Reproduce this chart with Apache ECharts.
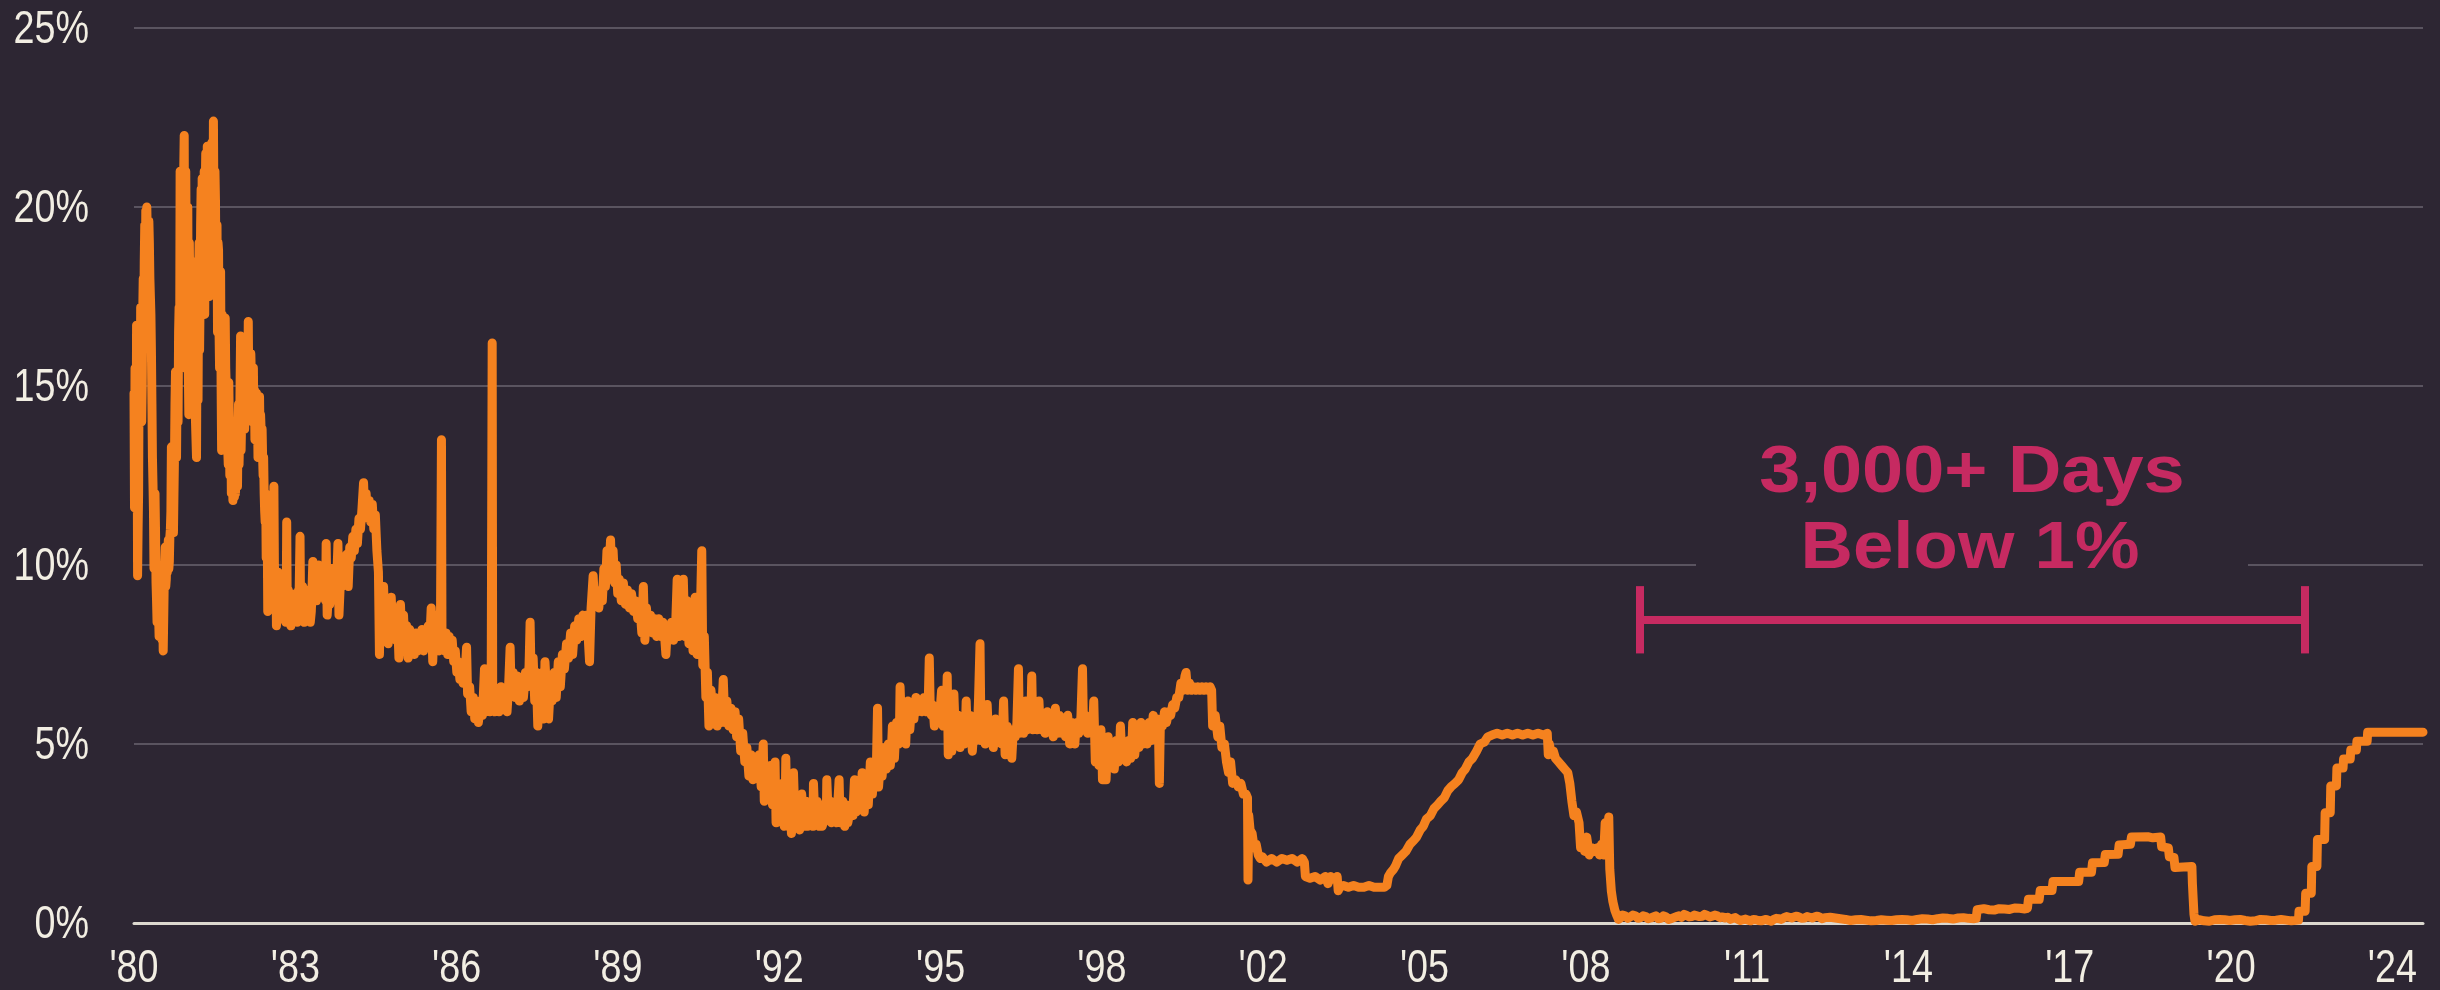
<!DOCTYPE html>
<html>
<head>
<meta charset="utf-8">
<script src="https://cdn.jsdelivr.net/npm/echarts@6/dist/echarts.min.js"></script>
<style>
  html, body { margin: 0; padding: 0; background: #2D2633; }
  #chart { width: 2440px; height: 990px; }
</style>
</head>
<body>
<div id="chart"></div>
<script>
// effective fed funds rate, [decimal year, percent]
var rates1980s = [
  [1980.00, 14.8], [1980.01, 11.6], [1980.03, 13.5], [1980.05, 16.7], [1980.07, 9.7], [1980.09, 12.0],
  [1980.11, 16.6], [1980.13, 17.2], [1980.15, 14.0], [1980.17, 17.0], [1980.20, 18.5], [1980.23, 19.9],
  [1980.25, 20.0], [1980.27, 18.2], [1980.29, 19.6], [1980.31, 18.0], [1980.33, 17.0], [1980.35, 14.5],
  [1980.37, 12.3], [1980.39, 9.9], [1980.41, 12.0], [1980.43, 9.5], [1980.45, 8.4], [1980.47, 10.0],
  [1980.49, 8.0], [1980.51, 9.8], [1980.54, 8.3], [1980.57, 7.6], [1980.59, 9.5], [1980.61, 10.5],
  [1980.63, 9.6], [1980.66, 10.4], [1980.69, 10.1], [1980.71, 11.0], [1980.73, 13.3], [1980.75, 12.0],
  [1980.77, 10.9], [1980.79, 13.0], [1980.81, 15.4], [1980.83, 13.0], [1980.85, 14.5], [1980.88, 17.2],
  [1980.90, 21.0], [1980.92, 18.0], [1980.95, 20.5], [1980.98, 22.0], [1981.00, 19.5], [1981.03, 16.0],
  [1981.05, 20.0], [1981.07, 14.2], [1981.09, 17.5], [1981.11, 15.0], [1981.13, 16.5], [1981.16, 14.3],
  [1981.19, 15.2], [1981.22, 13.0], [1981.24, 15.5], [1981.26, 17.8], [1981.28, 16.0], [1981.30, 19.5],
  [1981.33, 20.8], [1981.36, 18.0], [1981.39, 20.5], [1981.41, 19.0], [1981.43, 21.7], [1981.45, 18.5],
  [1981.48, 20.5], [1981.50, 18.8], [1981.53, 21.0], [1981.55, 22.4], [1981.57, 18.8], [1981.59, 20.2],
  [1981.61, 17.6], [1981.64, 19.0], [1981.66, 16.5], [1981.69, 18.2], [1981.71, 13.2], [1981.73, 16.0],
  [1981.75, 14.4], [1981.78, 16.9], [1981.80, 15.0], [1981.83, 13.2], [1981.85, 15.1], [1981.88, 13.2],
  [1981.91, 12.5], [1981.93, 11.8], [1981.95, 13.0], [1981.98, 12.0], [1982.00, 13.4], [1982.02, 12.2],
  [1982.04, 14.5], [1982.06, 13.5], [1982.08, 16.4], [1982.10, 14.0], [1982.13, 16.3], [1982.15, 14.5],
  [1982.18, 15.8], [1982.21, 14.2], [1982.23, 16.8], [1982.25, 14.6], [1982.28, 15.9], [1982.31, 14.0],
  [1982.33, 15.5], [1982.36, 13.5], [1982.39, 14.8], [1982.42, 13.0], [1982.45, 14.7], [1982.48, 13.8],
  [1982.51, 13.0], [1982.54, 12.0], [1982.56, 11.2], [1982.59, 10.6], [1982.61, 8.7], [1982.64, 10.0],
  [1982.67, 9.2], [1982.70, 10.0], [1982.73, 12.2], [1982.75, 9.5], [1982.78, 8.3], [1982.81, 9.8],
  [1982.84, 8.5], [1982.87, 9.5], [1982.90, 8.8], [1982.93, 9.4], [1982.96, 8.4], [1982.98, 11.2],
  [1983.00, 8.6], [1983.03, 9.2], [1983.06, 8.3], [1983.09, 9.0], [1983.12, 8.5], [1983.15, 9.2],
  [1983.18, 8.4], [1983.21, 9.3], [1983.24, 10.8], [1983.26, 8.6], [1983.29, 9.4], [1983.32, 8.4],
  [1983.35, 9.0], [1983.38, 8.6], [1983.41, 9.3], [1983.44, 8.4], [1983.47, 9.1], [1983.49, 10.1],
  [1983.51, 9.2], [1983.54, 9.7], [1983.57, 9.3], [1983.60, 10.0], [1983.63, 9.4], [1983.66, 9.8],
  [1983.69, 9.3], [1983.72, 9.6], [1983.75, 10.6], [1983.77, 8.6], [1983.80, 9.5], [1983.83, 9.1],
  [1983.86, 9.9], [1983.89, 9.2], [1983.92, 9.7], [1983.95, 9.3], [1983.98, 10.6], [1984.00, 8.6],
  [1984.03, 9.6], [1984.06, 9.4], [1984.09, 10.0], [1984.12, 9.6], [1984.15, 10.3], [1984.18, 9.4],
  [1984.21, 10.5], [1984.24, 10.2], [1984.27, 10.8], [1984.30, 10.4], [1984.33, 11.0], [1984.36, 10.6],
  [1984.39, 11.3], [1984.42, 11.0], [1984.45, 11.6], [1984.48, 12.3], [1984.50, 11.5], [1984.53, 12.0],
  [1984.56, 11.3], [1984.59, 11.8], [1984.62, 11.2], [1984.65, 11.7], [1984.68, 11.0], [1984.71, 11.4],
  [1984.74, 10.4], [1984.77, 9.8], [1984.79, 7.5], [1984.81, 9.0], [1984.84, 8.2], [1984.87, 9.4],
  [1984.90, 8.2], [1984.93, 9.0], [1984.96, 7.8], [1984.99, 8.5], [1985.02, 9.1], [1985.05, 8.0],
  [1985.08, 8.8], [1985.11, 7.9], [1985.14, 8.7], [1985.17, 7.4], [1985.20, 8.9], [1985.23, 7.8],
  [1985.26, 8.6], [1985.29, 7.6], [1985.32, 8.3], [1985.35, 7.4], [1985.38, 8.2], [1985.41, 7.6],
  [1985.44, 8.0], [1985.47, 7.5], [1985.50, 8.1], [1985.53, 7.6], [1985.56, 8.0], [1985.59, 7.7],
  [1985.62, 8.2], [1985.65, 7.6], [1985.68, 8.1], [1985.71, 7.7], [1985.74, 8.3], [1985.77, 7.8],
  [1985.80, 8.8], [1985.83, 7.3], [1985.86, 8.6], [1985.89, 7.8], [1985.92, 8.4], [1985.95, 7.6],
  [1985.98, 8.2], [1986.00, 13.5], [1986.01, 8.2]
];

// extra daily swings that fill out the early band
var rates1980sDaily = [
  [1980.02, 15.5], [1980.04, 12.5], [1980.06, 14.5], [1980.08, 11.0], [1980.10, 15.5], [1980.12, 14.0],
  [1980.14, 16.3], [1980.16, 15.0], [1980.18, 18.0], [1980.19, 16.5], [1980.21, 19.5], [1980.22, 17.5],
  [1980.24, 18.5], [1980.26, 19.2], [1980.28, 17.5], [1980.30, 19.0], [1980.32, 17.5], [1980.34, 16.0],
  [1980.36, 13.0], [1980.38, 11.5], [1980.40, 10.5], [1980.42, 11.0], [1980.44, 9.0], [1980.46, 9.3],
  [1980.48, 8.6], [1980.50, 9.0], [1980.52, 8.2], [1980.53, 9.5], [1980.55, 7.9], [1980.56, 9.0],
  [1980.58, 8.5], [1980.60, 10.0], [1980.62, 9.4], [1980.64, 10.2], [1980.65, 9.8], [1980.67, 10.7],
  [1980.68, 9.9], [1980.70, 10.8], [1980.72, 11.5], [1980.74, 12.5], [1980.76, 11.5], [1980.78, 12.0],
  [1980.80, 14.5], [1980.82, 13.8], [1980.84, 15.0], [1980.86, 14.0], [1980.87, 16.5], [1980.89, 15.5],
  [1980.91, 19.5], [1980.93, 15.5], [1980.94, 17.0], [1980.96, 19.0], [1980.97, 21.0], [1980.99, 16.5],
  [1981.01, 21.0], [1981.04, 18.0], [1981.06, 15.5], [1981.08, 19.0], [1981.10, 16.0], [1981.12, 18.5],
  [1981.14, 14.8], [1981.17, 17.0], [1981.20, 14.0], [1981.23, 16.5], [1981.25, 14.6], [1981.27, 19.0],
  [1981.29, 17.5], [1981.31, 20.5], [1981.32, 17.5], [1981.34, 19.0], [1981.37, 21.0], [1981.38, 17.0],
  [1981.40, 21.5], [1981.42, 18.0], [1981.44, 20.0], [1981.46, 21.0], [1981.47, 17.5], [1981.49, 21.5],
  [1981.51, 19.5], [1981.52, 21.8], [1981.54, 19.0], [1981.56, 20.0], [1981.58, 21.0], [1981.60, 18.0],
  [1981.62, 19.5], [1981.63, 16.5], [1981.65, 18.8], [1981.67, 15.5], [1981.68, 17.5], [1981.70, 15.0],
  [1981.72, 17.0], [1981.74, 13.5], [1981.76, 15.8], [1981.77, 13.8], [1981.79, 15.5], [1981.81, 14.0],
  [1981.82, 15.0], [1981.84, 12.8], [1981.86, 14.0], [1981.87, 12.5], [1981.89, 13.8], [1981.90, 12.0],
  [1981.92, 13.2], [1981.94, 12.4], [1981.96, 11.9], [1981.97, 13.4], [1982.01, 12.6], [1982.03, 13.8],
  [1982.05, 12.8], [1982.07, 15.0], [1982.09, 13.2], [1982.11, 15.5], [1982.12, 13.8], [1982.14, 15.2],
  [1982.16, 13.8], [1982.17, 15.0], [1982.19, 14.0], [1982.20, 15.5], [1982.22, 14.4], [1982.24, 15.0],
  [1982.26, 15.4], [1982.27, 14.2], [1982.29, 15.3], [1982.30, 14.3], [1982.32, 15.0], [1982.34, 14.0],
  [1982.35, 14.9], [1982.37, 14.0], [1982.38, 14.5], [1982.40, 13.6], [1982.41, 14.3], [1982.43, 13.5],
  [1982.44, 14.2], [1982.46, 13.5], [1982.47, 14.2], [1982.49, 13.0], [1982.50, 13.8], [1982.52, 12.5],
  [1982.53, 13.0], [1982.55, 11.5], [1982.57, 12.0], [1982.58, 10.2], [1982.60, 11.0], [1982.62, 9.4],
  [1982.63, 10.3], [1982.65, 9.0], [1982.66, 10.2], [1982.68, 9.5], [1982.69, 9.0], [1982.71, 10.3],
  [1982.72, 9.2], [1982.74, 10.0], [1982.76, 9.0], [1982.77, 9.6], [1982.79, 8.6], [1982.80, 9.5],
  [1982.82, 8.8], [1982.83, 9.6], [1982.85, 8.7], [1982.86, 9.3], [1982.88, 8.6], [1982.89, 9.2],
  [1982.91, 8.5], [1982.92, 9.0], [1982.94, 8.6], [1982.95, 9.2], [1982.97, 8.7], [1982.99, 9.0],
  [1983.01, 9.3], [1983.04, 8.9], [1983.07, 8.9], [1983.10, 8.8], [1983.13, 9.0], [1983.16, 8.8],
  [1983.19, 8.9], [1983.22, 9.0], [1983.25, 9.0], [1983.28, 8.6], [1983.31, 8.5], [1983.34, 8.6],
  [1983.37, 8.7], [1983.40, 8.6], [1983.43, 8.8], [1983.46, 8.7], [1983.50, 9.0], [1983.53, 9.1],
  [1983.56, 9.0], [1983.59, 9.2], [1983.62, 9.1], [1983.65, 9.2], [1983.68, 9.1], [1983.71, 9.2],
  [1983.74, 9.0], [1983.79, 9.1], [1983.82, 8.9], [1983.85, 9.2], [1983.88, 9.3], [1983.91, 9.1],
  [1983.94, 9.2], [1983.97, 9.3]
];

var rates1986to1992 = [
  [1986.03, 8.2], [1986.06, 7.6], [1986.09, 8.1], [1986.12, 7.5], [1986.15, 8.0], [1986.18, 7.6],
  [1986.21, 7.9], [1986.24, 7.3], [1986.27, 7.6], [1986.30, 7.0], [1986.33, 7.3], [1986.36, 6.8],
  [1986.39, 7.1], [1986.42, 6.7], [1986.46, 6.9], [1986.49, 7.7], [1986.51, 6.4], [1986.55, 6.6],
  [1986.58, 5.9], [1986.62, 6.3], [1986.65, 5.7], [1986.69, 6.2], [1986.72, 5.6], [1986.76, 6.1],
  [1986.80, 5.8], [1986.84, 7.1], [1986.87, 5.9], [1986.90, 6.5], [1986.94, 5.9], [1986.97, 6.4],
  [1986.99, 16.2], [1987.00, 6.3], [1987.04, 5.9], [1987.08, 6.5], [1987.12, 5.9], [1987.16, 6.6],
  [1987.20, 6.0], [1987.24, 6.4], [1987.28, 5.9], [1987.31, 6.6], [1987.34, 7.7], [1987.36, 6.4],
  [1987.40, 7.0], [1987.44, 6.3], [1987.48, 6.9], [1987.52, 6.2], [1987.56, 6.8], [1987.60, 6.3],
  [1987.64, 7.0], [1987.68, 6.6], [1987.71, 7.2], [1987.73, 8.4], [1987.75, 6.8], [1987.79, 7.4],
  [1987.82, 6.2], [1987.85, 7.0], [1987.88, 5.5], [1987.91, 6.8], [1987.94, 6.0], [1987.97, 7.0],
  [1988.00, 5.7], [1988.02, 7.3], [1988.05, 6.5], [1988.09, 5.7], [1988.12, 6.5], [1988.16, 6.2],
  [1988.20, 7.0], [1988.24, 6.3], [1988.28, 7.3], [1988.32, 6.6], [1988.36, 7.5], [1988.40, 7.1],
  [1988.44, 7.8], [1988.48, 7.4], [1988.52, 8.1], [1988.56, 7.5], [1988.60, 8.3], [1988.64, 7.9],
  [1988.68, 8.5], [1988.72, 8.0], [1988.76, 8.6], [1988.80, 8.2], [1988.84, 8.6], [1988.89, 7.3],
  [1988.92, 8.8], [1988.96, 9.7], [1988.99, 8.9], [1989.03, 9.2], [1989.07, 8.8], [1989.11, 9.3],
  [1989.14, 9.0], [1989.17, 9.9], [1989.20, 9.4], [1989.23, 10.4], [1989.26, 9.6], [1989.30, 10.7],
  [1989.32, 9.8], [1989.35, 10.4], [1989.38, 9.5], [1989.41, 10.0], [1989.44, 9.2], [1989.47, 9.6],
  [1989.51, 9.0], [1989.55, 9.5], [1989.59, 8.9], [1989.63, 9.3], [1989.67, 8.8], [1989.71, 9.2],
  [1989.75, 8.7], [1989.79, 9.0], [1989.83, 8.5], [1989.87, 8.9], [1989.91, 8.1], [1989.94, 9.4],
  [1989.97, 7.9], [1990.00, 8.8], [1990.04, 8.2], [1990.08, 8.6], [1990.12, 8.1], [1990.16, 8.5],
  [1990.20, 8.0], [1990.24, 8.5], [1990.28, 8.0], [1990.32, 8.4], [1990.36, 7.9], [1990.38, 7.5],
  [1990.41, 8.3], [1990.45, 7.9], [1990.49, 8.4], [1990.53, 7.9], [1990.57, 8.3], [1990.60, 9.6],
  [1990.63, 8.0], [1990.66, 9.5], [1990.69, 8.1], [1990.72, 9.6], [1990.75, 8.0], [1990.79, 9.0],
  [1990.83, 7.8], [1990.87, 8.6], [1990.91, 7.6], [1990.95, 9.1], [1990.99, 7.5], [1991.05, 8.5],
  [1991.08, 10.4], [1991.10, 7.2], [1991.13, 8.0], [1991.16, 6.3], [1991.19, 7.0], [1991.22, 5.5],
  [1991.26, 6.5], [1991.30, 5.8], [1991.34, 6.3], [1991.38, 5.5], [1991.42, 6.1], [1991.46, 5.6],
  [1991.50, 6.8], [1991.53, 5.6], [1991.57, 6.2], [1991.61, 5.5], [1991.65, 6.0], [1991.69, 5.4],
  [1991.73, 5.9], [1991.76, 5.2], [1991.80, 5.7], [1991.84, 4.8], [1991.88, 5.3], [1991.92, 4.5],
  [1991.96, 4.9], [1992.00, 4.1], [1992.04, 4.7], [1992.08, 4.0], [1992.12, 4.5], [1992.16, 4.1],
  [1992.20, 4.7], [1992.24, 3.8], [1992.28, 5.0]
];

var rates1992to2001 = [
  [1992.30, 3.4], [1992.34, 4.3], [1992.38, 3.5], [1992.42, 4.4], [1992.46, 3.3], [1992.51, 4.5],
  [1992.53, 2.8], [1992.57, 3.6], [1992.61, 3.0], [1992.65, 3.9], [1992.69, 2.7], [1992.72, 4.6],
  [1992.75, 2.9], [1992.79, 3.7], [1992.83, 2.5], [1992.87, 4.2], [1992.91, 2.8], [1992.95, 3.5],
  [1992.99, 2.6], [1993.03, 3.6], [1993.07, 2.8], [1993.11, 3.4], [1993.15, 2.7], [1993.19, 3.3],
  [1993.23, 2.9], [1993.26, 3.9], [1993.29, 2.8], [1993.33, 3.4], [1993.37, 2.7], [1993.41, 3.3],
  [1993.45, 2.8], [1993.49, 3.2], [1993.52, 4.0], [1993.55, 2.9], [1993.59, 3.4], [1993.63, 2.9],
  [1993.67, 3.3], [1993.71, 2.8], [1993.76, 4.0], [1993.79, 2.9], [1993.83, 3.4], [1993.87, 2.7],
  [1993.91, 3.3], [1993.95, 2.8], [1993.99, 3.3], [1994.03, 3.0], [1994.06, 4.0], [1994.09, 3.1],
  [1994.13, 3.9], [1994.17, 3.2], [1994.21, 4.2], [1994.25, 3.1], [1994.29, 4.1], [1994.33, 3.3],
  [1994.37, 4.5], [1994.41, 3.6], [1994.45, 4.4], [1994.48, 3.8], [1994.51, 6.0], [1994.53, 3.8],
  [1994.56, 4.6], [1994.60, 4.1], [1994.64, 4.9], [1994.68, 4.3], [1994.72, 5.0], [1994.76, 4.4],
  [1994.80, 5.5], [1994.84, 4.6], [1994.88, 5.6], [1994.92, 5.0], [1994.95, 6.6], [1994.98, 5.2],
  [1995.02, 6.0], [1995.06, 5.0], [1995.10, 6.2], [1995.14, 5.4], [1995.18, 6.1], [1995.22, 5.7],
  [1995.26, 6.3], [1995.30, 5.9], [1995.34, 6.2], [1995.38, 5.9], [1995.42, 6.3], [1995.46, 5.9],
  [1995.50, 6.2], [1995.52, 7.4], [1995.54, 5.9], [1995.58, 6.1], [1995.62, 5.5], [1995.66, 6.0],
  [1995.70, 5.6], [1995.74, 6.1], [1995.76, 6.5], [1995.79, 5.5], [1995.83, 6.1], [1995.87, 6.9],
  [1995.89, 4.7], [1995.92, 5.9], [1995.96, 4.8], [1996.00, 6.4], [1996.04, 5.0], [1996.08, 5.8],
  [1996.12, 4.9], [1996.16, 5.6], [1996.20, 5.0], [1996.24, 6.2], [1996.28, 5.2], [1996.32, 5.8],
  [1996.36, 4.8], [1996.40, 5.6], [1996.44, 5.1], [1996.48, 6.2], [1996.51, 7.8], [1996.53, 5.1],
  [1996.57, 5.6], [1996.61, 5.0], [1996.65, 6.1], [1996.69, 5.1], [1996.73, 5.5], [1996.77, 4.9],
  [1996.81, 5.7], [1996.85, 5.2], [1996.89, 5.5], [1996.93, 5.0], [1996.97, 6.2], [1997.00, 4.7],
  [1997.04, 5.5], [1997.08, 5.1], [1997.13, 4.6], [1997.16, 5.4], [1997.20, 5.2], [1997.23, 5.6],
  [1997.26, 7.1], [1997.28, 5.3], [1997.32, 5.8], [1997.36, 5.3], [1997.40, 6.2], [1997.44, 5.4],
  [1997.48, 5.8], [1997.52, 6.9], [1997.54, 5.4], [1997.58, 5.9], [1997.62, 5.4], [1997.66, 6.2],
  [1997.70, 5.4], [1997.74, 5.8], [1997.78, 5.3], [1997.82, 5.9], [1997.86, 5.4], [1997.90, 5.7],
  [1997.94, 5.2], [1997.98, 6.0], [1998.02, 5.3], [1998.06, 5.8], [1998.10, 5.3], [1998.14, 5.7],
  [1998.18, 5.2], [1998.22, 5.8], [1998.26, 5.0], [1998.30, 5.6], [1998.34, 5.3], [1998.36, 5.0],
  [1998.40, 5.6], [1998.44, 5.3], [1998.48, 5.8], [1998.51, 7.1], [1998.53, 5.4], [1998.57, 5.8],
  [1998.61, 5.3], [1998.65, 5.7], [1998.69, 5.3], [1998.73, 6.2], [1998.76, 4.5], [1998.79, 5.3],
  [1998.83, 4.4], [1998.87, 5.4], [1998.90, 4.0], [1998.93, 4.9], [1998.97, 4.0], [1999.01, 5.2],
  [1999.05, 4.6], [1999.09, 5.0], [1999.13, 4.3], [1999.17, 5.1], [1999.21, 4.5], [1999.25, 5.5],
  [1999.29, 4.6], [1999.33, 5.0], [1999.37, 4.5], [1999.41, 5.1], [1999.45, 4.6], [1999.49, 5.6],
  [1999.53, 4.7], [1999.57, 5.3], [1999.61, 4.9], [1999.65, 5.6], [1999.69, 5.0], [1999.73, 5.5],
  [1999.77, 5.0], [1999.81, 5.6], [1999.85, 5.1], [1999.89, 5.8], [1999.93, 5.2], [1999.97, 5.7],
  [2000.01, 3.9], [2000.03, 5.6], [2000.07, 5.5], [2000.11, 5.9], [2000.15, 5.6], [2000.19, 5.9],
  [2000.23, 5.8], [2000.27, 6.1], [2000.31, 6.0], [2000.35, 6.3], [2000.39, 6.3], [2000.43, 6.7],
  [2000.47, 6.5], [2000.51, 6.9], [2000.53, 7.0], [2000.56, 6.5], [2000.60, 6.7], [2000.64, 6.5],
  [2000.68, 6.6], [2000.72, 6.5], [2000.76, 6.6], [2000.80, 6.5], [2000.84, 6.6], [2000.88, 6.5],
  [2000.92, 6.6], [2000.96, 6.5], [2001.00, 6.6]
];

// extra daily swings for the 1992-2000 band
var rates1990sDaily = [
  [1992.55, 3.9], [1992.59, 2.9], [1992.63, 3.4], [1992.67, 2.9], [1992.71, 3.5], [1992.74, 3.2],
  [1992.77, 2.7], [1992.81, 3.3], [1992.85, 2.9], [1992.89, 3.3], [1992.93, 2.7], [1992.97, 3.2],
  [1993.01, 2.8], [1993.05, 3.2], [1993.09, 2.7], [1993.13, 3.1], [1993.17, 2.8], [1993.21, 3.2],
  [1993.25, 2.7], [1993.31, 3.1], [1993.35, 2.9], [1993.39, 3.2], [1993.43, 2.7], [1993.47, 3.1],
  [1993.51, 2.9], [1993.57, 3.2], [1993.61, 2.8], [1993.65, 3.1], [1993.69, 2.9], [1993.73, 3.2],
  [1993.78, 2.8], [1993.81, 3.2], [1993.85, 2.9], [1993.89, 3.1], [1993.93, 2.8], [1993.97, 3.1],
  [1994.01, 3.2], [1994.04, 3.4], [1994.08, 3.5], [1994.11, 3.3], [1994.15, 3.5], [1994.19, 3.6],
  [1994.23, 3.5], [1994.27, 3.7], [1994.31, 3.6], [1994.35, 3.9], [1994.39, 4.0], [1994.43, 4.1],
  [1994.47, 4.2], [1994.55, 4.2], [1994.58, 4.4], [1994.62, 4.5], [1994.66, 4.6], [1994.70, 4.6],
  [1994.74, 4.7], [1994.78, 4.8], [1994.82, 5.1], [1994.86, 5.2], [1994.90, 5.4], [1994.94, 5.6],
  [1994.97, 5.8], [1995.00, 5.5], [1995.04, 5.7], [1995.08, 5.8], [1995.12, 5.9], [1995.16, 5.8],
  [1995.20, 6.0], [1995.24, 6.1], [1995.28, 6.0], [1995.32, 6.1], [1995.36, 6.0], [1995.40, 6.1],
  [1995.44, 6.0], [1995.48, 6.1], [1995.56, 5.8], [1995.60, 5.9], [1995.64, 5.7], [1995.68, 5.8],
  [1995.72, 5.7], [1995.78, 5.8], [1995.81, 5.6], [1995.85, 5.7], [1995.91, 5.5], [1995.94, 5.4],
  [1995.98, 5.5], [1996.02, 5.6], [1996.06, 5.3], [1996.10, 5.4], [1996.14, 5.2], [1996.18, 5.3],
  [1996.22, 5.2], [1996.26, 5.4], [1996.30, 5.2], [1996.34, 5.4], [1996.38, 5.2], [1996.42, 5.3],
  [1996.46, 5.4], [1996.55, 5.3], [1996.59, 5.4], [1996.63, 5.2], [1996.67, 5.4], [1996.71, 5.3],
  [1996.75, 5.2], [1996.79, 5.3], [1996.83, 5.4], [1996.87, 5.3], [1996.91, 5.2], [1996.95, 5.4],
  [1997.02, 5.3], [1997.06, 5.2], [1997.10, 5.4], [1997.18, 5.3], [1997.22, 5.4], [1997.30, 5.5],
  [1997.34, 5.6], [1997.38, 5.5], [1997.42, 5.6], [1997.46, 5.5], [1997.50, 5.6], [1997.56, 5.5],
  [1997.60, 5.7], [1997.64, 5.5], [1997.68, 5.6], [1997.72, 5.5], [1997.76, 5.6], [1997.80, 5.5],
  [1997.84, 5.6], [1997.88, 5.5], [1997.92, 5.4], [1997.96, 5.5], [1998.00, 5.6], [1998.04, 5.5],
  [1998.08, 5.6], [1998.12, 5.4], [1998.16, 5.5], [1998.20, 5.4], [1998.24, 5.5], [1998.28, 5.3],
  [1998.32, 5.5], [1998.38, 5.4], [1998.42, 5.5], [1998.46, 5.4], [1998.55, 5.5], [1998.59, 5.6],
  [1998.63, 5.5], [1998.67, 5.4], [1998.71, 5.5], [1998.78, 5.0], [1998.81, 5.0], [1998.85, 4.8],
  [1998.89, 4.7], [1998.95, 4.6], [1998.99, 4.7], [1999.03, 4.8], [1999.07, 4.7], [1999.11, 4.8],
  [1999.15, 4.7], [1999.19, 4.8], [1999.23, 4.7], [1999.27, 4.9], [1999.31, 4.8], [1999.35, 4.7],
  [1999.39, 4.8], [1999.43, 4.9], [1999.47, 4.8], [1999.51, 5.0], [1999.55, 5.0], [1999.59, 5.1],
  [1999.63, 5.2], [1999.67, 5.2], [1999.71, 5.3], [1999.75, 5.2], [1999.79, 5.3], [1999.83, 5.4],
  [1999.87, 5.5], [1999.91, 5.4], [1999.95, 5.5], [1999.99, 5.6]
];

var rates2001to2008 = [
  [2001.03, 6.5], [2001.05, 5.5], [2001.10, 5.8], [2001.15, 5.2], [2001.19, 5.5], [2001.23, 4.9],
  [2001.28, 5.0], [2001.32, 4.5], [2001.36, 4.2], [2001.40, 4.5], [2001.44, 3.9], [2001.50, 4.0],
  [2001.55, 3.8], [2001.60, 3.9], [2001.65, 3.6], [2001.70, 3.6], [2001.73, 3.5], [2001.74, 1.2],
  [2001.755, 3.0], [2001.78, 2.6], [2001.82, 2.5], [2001.86, 2.1], [2001.90, 2.2], [2001.94, 1.9],
  [2001.98, 1.8], [2002.02, 1.85], [2002.10, 1.7], [2002.20, 1.8], [2002.30, 1.7], [2002.40, 1.8],
  [2002.50, 1.75], [2002.60, 1.8], [2002.70, 1.7], [2002.80, 1.8], [2002.84, 1.7], [2002.86, 1.3],
  [2002.95, 1.25], [2003.05, 1.3], [2003.15, 1.2], [2003.25, 1.3], [2003.30, 1.1], [2003.35, 1.3],
  [2003.45, 1.2], [2003.48, 1.3], [2003.50, 0.9], [2003.53, 1.0], [2003.60, 1.05], [2003.70, 1.0],
  [2003.80, 1.05], [2003.90, 1.0], [2004.00, 1.0], [2004.10, 1.05], [2004.20, 1.0], [2004.30, 1.0],
  [2004.40, 1.0], [2004.45, 1.05], [2004.48, 1.3], [2004.52, 1.4], [2004.58, 1.5], [2004.62, 1.6],
  [2004.68, 1.8], [2004.75, 1.9], [2004.82, 2.0], [2004.90, 2.2], [2004.97, 2.3], [2005.03, 2.4],
  [2005.10, 2.6], [2005.16, 2.7], [2005.22, 2.9], [2005.30, 3.0], [2005.37, 3.2], [2005.44, 3.3],
  [2005.50, 3.4], [2005.57, 3.5], [2005.64, 3.7], [2005.70, 3.8], [2005.78, 3.9], [2005.85, 4.0],
  [2005.92, 4.2], [2005.98, 4.3], [2006.05, 4.5], [2006.12, 4.6], [2006.20, 4.8], [2006.27, 5.0],
  [2006.35, 5.05], [2006.42, 5.2], [2006.50, 5.25], [2006.60, 5.3], [2006.70, 5.25], [2006.80, 5.3],
  [2006.90, 5.25], [2007.00, 5.3], [2007.10, 5.25], [2007.20, 5.3], [2007.30, 5.25], [2007.40, 5.3],
  [2007.50, 5.25], [2007.58, 5.3], [2007.60, 4.7], [2007.62, 5.0], [2007.65, 4.8], [2007.70, 4.8],
  [2007.74, 4.6], [2007.80, 4.5], [2007.86, 4.4], [2007.92, 4.3], [2007.98, 4.2], [2008.02, 3.9],
  [2008.06, 3.4], [2008.10, 3.0], [2008.15, 3.1], [2008.20, 2.8], [2008.23, 2.1], [2008.27, 2.3],
  [2008.31, 2.0], [2008.35, 2.4], [2008.40, 1.9], [2008.45, 2.1], [2008.50, 2.0], [2008.55, 2.1],
  [2008.60, 1.9], [2008.64, 2.2], [2008.68, 1.9], [2008.71, 2.8], [2008.73, 2.0], [2008.78, 2.96],
  [2008.80, 1.5], [2008.83, 0.9], [2008.86, 0.6], [2008.90, 0.35], [2008.94, 0.2], [2008.97, 0.1]
];

var rates2009to2024 = [
  [2009.02, 0.15], [2009.10, 0.2], [2009.20, 0.17], [2009.30, 0.2], [2009.40, 0.15], [2009.50, 0.18],
  [2009.60, 0.14], [2009.70, 0.2], [2009.80, 0.13], [2009.90, 0.17], [2010.00, 0.12], [2010.10, 0.18],
  [2010.20, 0.16], [2010.30, 0.21], [2010.40, 0.18], [2010.50, 0.2], [2010.60, 0.19], [2010.70, 0.21],
  [2010.80, 0.19], [2010.90, 0.2], [2011.00, 0.17], [2011.10, 0.16], [2011.20, 0.13], [2011.30, 0.1],
  [2011.40, 0.09], [2011.50, 0.08], [2011.60, 0.1], [2011.70, 0.07], [2011.80, 0.08], [2011.90, 0.07],
  [2012.00, 0.1], [2012.10, 0.12], [2012.20, 0.15], [2012.30, 0.16], [2012.40, 0.17], [2012.50, 0.16],
  [2012.60, 0.14], [2012.70, 0.16], [2012.80, 0.17], [2012.90, 0.16], [2013.00, 0.15], [2013.20, 0.14],
  [2013.40, 0.1], [2013.60, 0.09], [2013.80, 0.08], [2014.00, 0.07], [2014.20, 0.08], [2014.40, 0.09],
  [2014.60, 0.09], [2014.80, 0.1], [2015.00, 0.11], [2015.20, 0.12], [2015.40, 0.13], [2015.60, 0.14],
  [2015.80, 0.13], [2015.95, 0.13], [2015.97, 0.37], [2016.20, 0.37], [2016.50, 0.39], [2016.80, 0.41],
  [2016.95, 0.41], [2016.97, 0.66], [2017.18, 0.66], [2017.20, 0.91], [2017.43, 0.91], [2017.45, 1.16],
  [2017.95, 1.16], [2017.97, 1.42], [2018.20, 1.42], [2018.22, 1.68], [2018.45, 1.69], [2018.47, 1.91],
  [2018.72, 1.92], [2018.74, 2.18], [2018.96, 2.2], [2018.98, 2.4], [2019.30, 2.41], [2019.40, 2.38],
  [2019.55, 2.4], [2019.57, 2.13], [2019.70, 2.1], [2019.72, 1.85], [2019.81, 1.83], [2019.83, 1.55],
  [2020.16, 1.58], [2020.17, 1.1], [2020.20, 0.25], [2020.22, 0.05], [2020.40, 0.06], [2020.60, 0.09],
  [2020.80, 0.09], [2021.00, 0.09], [2021.20, 0.07], [2021.40, 0.06], [2021.60, 0.09], [2021.80, 0.08],
  [2022.00, 0.08], [2022.24, 0.08], [2022.25, 0.33], [2022.37, 0.33], [2022.38, 0.83], [2022.49, 0.83],
  [2022.50, 1.58], [2022.60, 1.58], [2022.61, 2.33], [2022.75, 2.33], [2022.76, 3.08], [2022.86, 3.08],
  [2022.87, 3.83], [2022.98, 3.83], [2022.99, 4.33], [2023.11, 4.33], [2023.12, 4.58], [2023.25, 4.58],
  [2023.26, 4.83], [2023.37, 4.83], [2023.38, 5.08], [2023.58, 5.08], [2023.59, 5.33], [2024.67, 5.33]
];

// small wiggles along the near-zero stretches
var ratesZeroDaily = [
  [2009.05, 0.22], [2009.15, 0.13], [2009.25, 0.22], [2009.35, 0.13], [2009.45, 0.2], [2009.55, 0.12],
  [2009.65, 0.17], [2009.75, 0.12], [2009.85, 0.2], [2009.95, 0.1], [2010.05, 0.15], [2010.15, 0.2],
  [2010.25, 0.24], [2010.35, 0.17], [2010.45, 0.22], [2010.55, 0.18], [2010.65, 0.24], [2010.75, 0.17],
  [2010.85, 0.22], [2010.95, 0.15], [2011.05, 0.14], [2011.15, 0.1], [2011.25, 0.15], [2011.35, 0.07],
  [2011.45, 0.11], [2011.55, 0.06], [2011.65, 0.09], [2011.75, 0.06], [2011.85, 0.1], [2011.95, 0.05],
  [2012.05, 0.13], [2012.15, 0.1], [2012.25, 0.18], [2012.35, 0.14], [2012.45, 0.19], [2012.55, 0.13],
  [2012.65, 0.18], [2012.75, 0.14], [2012.85, 0.19], [2012.95, 0.12], [2013.10, 0.16], [2013.30, 0.12],
  [2013.50, 0.07], [2013.70, 0.1], [2013.90, 0.06], [2014.10, 0.09], [2014.30, 0.07], [2014.50, 0.1],
  [2014.70, 0.07], [2014.90, 0.12], [2015.10, 0.09], [2015.30, 0.14], [2015.50, 0.11], [2015.70, 0.15],
  [2015.90, 0.12], [2016.10, 0.4], [2016.30, 0.36], [2016.40, 0.4], [2016.60, 0.38], [2016.70, 0.42],
  [2016.90, 0.39], [2020.30, 0.09], [2020.50, 0.05], [2020.70, 0.1], [2020.90, 0.07], [2021.10, 0.1],
  [2021.30, 0.05], [2021.50, 0.1], [2021.70, 0.07], [2021.90, 0.1], [2022.10, 0.06]
];

var tickLabels = ["'80", "'83", "'86", "'89", "'92", "'95", "'98", "'02", "'05", "'08", "'11", "'14", "'17", "'20", "'24"];
var yTicks = [0, 5, 10, 15, 20, 25];
var firstYear = 1980;
var lastYear = 2024.67;
var tickStep = 3.148;
var tickYears = tickLabels.map(function (t, i) { return firstYear + i * tickStep; });

// "3,000+ Days Below 1%" bracket: start, end, level, tick top/bottom
var bracketYears = [2009.38, 2022.36];
var bracketLevel = 8.47;
var bracketTicks = [9.41, 7.53];
var noteLines = ['3,000+ Days', 'Below 1%'];

var rates = rates1980s.concat(rates1980sDaily, rates1986to1992, rates1992to2001, rates1990sDaily,
    rates2001to2008, rates2009to2024, ratesZeroDaily);
rates.sort(function (a, b) { return a[0] - b[0]; });

var bg = '#2D2633';
var textColor = '#F2EEE3';
var accent = '#C62A61';
var labelFont = '46px "Liberation Sans", Arial, sans-serif';
var noteFont = 'bold 66px "Liberation Sans", Arial, sans-serif';

var myChart = echarts.init(document.getElementById('chart'));
var option = {
    backgroundColor: bg,
    animation: false,
    grid: { left: 134, right: 17, top: 28, bottom: 67, outerBoundsMode: 'none' },
    xAxis: {
        type: 'value',
        min: firstYear,
        max: lastYear,
        axisLine: { show: true, lineStyle: { color: '#DCD8CF', width: 3 } },
        axisTick: { show: false },
        splitLine: { show: false },
        axisLabel: { show: false }
    },
    yAxis: {
        type: 'value',
        min: 0,
        max: 25,
        interval: 5,
        axisLine: { show: false },
        axisTick: { show: false },
        splitLine: { lineStyle: { color: '#5A5460', width: 2 } },
        axisLabel: { show: false }
    },
    series: [
        {
            name: 'Fed funds',
            type: 'line',
            data: rates,
            showSymbol: false,
            symbol: 'none',
            sampling: false,
            lineStyle: { color: '#F5821F', width: 9, cap: 'round', join: 'round' },
            z: 3,
            markLine: {
                silent: true,
                symbol: 'none',
                label: { show: false },
                lineStyle: { color: accent, width: 8, type: 'solid' },
                data: [
                    [{ coord: [bracketYears[0], bracketLevel] }, { coord: [bracketYears[1], bracketLevel] }],
                    [{ coord: [bracketYears[0], bracketTicks[0]] }, { coord: [bracketYears[0], bracketTicks[1]] }],
                    [{ coord: [bracketYears[1], bracketTicks[0]] }, { coord: [bracketYears[1], bracketTicks[1]] }]
                ]
            }
        }
    ]
};
myChart.setOption(option);

// narrow tick labels, placed through the axes' own scales
var zeroY = myChart.convertToPixel({ yAxisIndex: 0 }, 0);
var labels = [];
yTicks.forEach(function (v) {
    labels.push({
        type: 'text', x: 89, y: myChart.convertToPixel({ yAxisIndex: 0 }, v) + 2, scaleX: 0.82,
        style: { text: v + '%', fill: textColor, font: labelFont, align: 'right', verticalAlign: 'middle' }
    });
});
tickYears.forEach(function (yr, i) {
    labels.push({
        type: 'text', x: myChart.convertToPixel({ xAxisIndex: 0 }, yr), y: zeroY + 46, scaleX: 0.82,
        style: { text: tickLabels[i], fill: textColor, font: labelFont, align: 'center', verticalAlign: 'middle' }
    });
});

myChart.setOption({
    graphic: labels.concat([
        { type: 'rect', z: 1, shape: { x: 1696, y: 432, width: 552, height: 146 }, style: { fill: bg } },
        {
            type: 'text', z: 2, x: 1972, y: 474, scaleX: 1.12,
            style: { text: noteLines[0], fill: accent, font: noteFont, align: 'center', verticalAlign: 'middle' }
        },
        {
            type: 'text', z: 2, x: 1970, y: 550, scaleX: 1.1,
            style: { text: noteLines[1], fill: accent, font: noteFont, align: 'center', verticalAlign: 'middle' }
        }
    ])
});
</script>
</body>
</html>
